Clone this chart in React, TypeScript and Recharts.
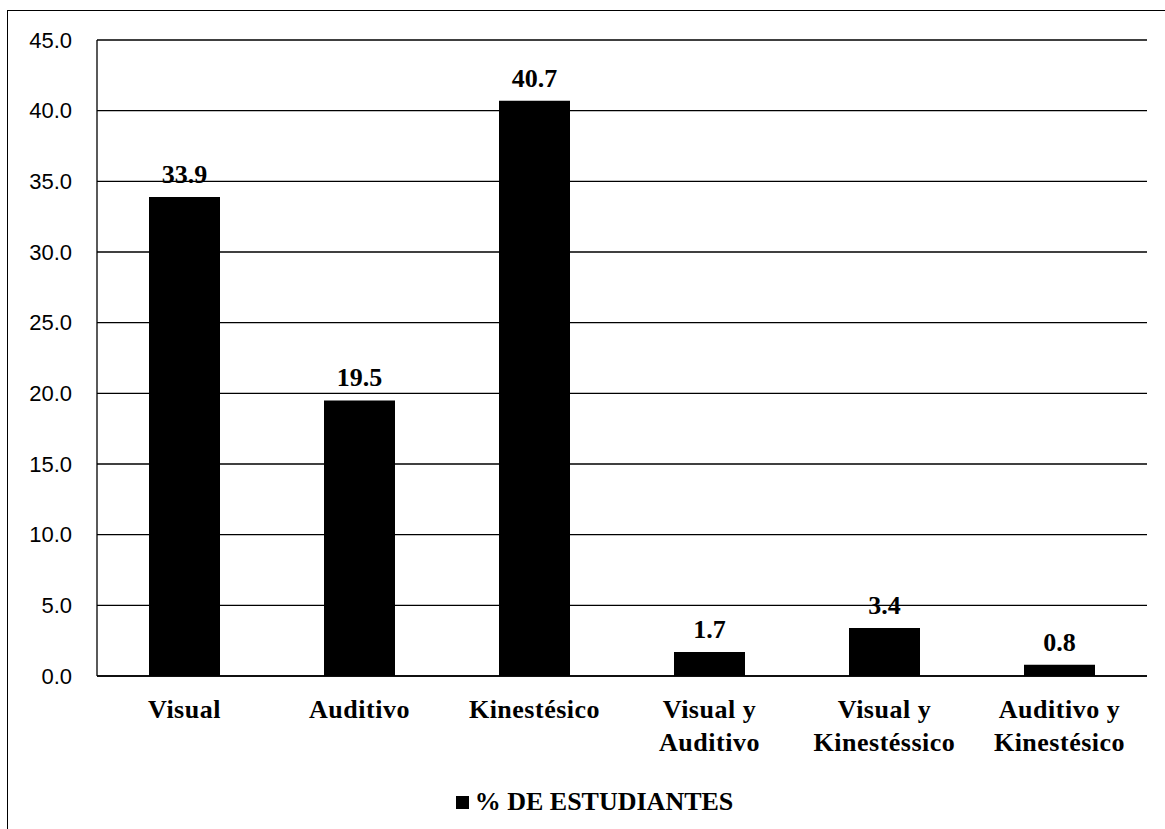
import { BarChart, Bar, XAxis, YAxis, CartesianGrid, Legend, LabelList } from 'recharts';

const categories = [
  'Visual',
  'Auditivo',
  'Kinestésico',
  'Visual y\nAuditivo',
  'Visual y\nKinestéssico',
  'Auditivo y\nKinestésico',
];
const porcentajes = [33.9, 19.5, 40.7, 1.7, 3.4, 0.8];
const yTicks = [0, 5, 10, 15, 20, 25, 30, 35, 40, 45];
const seriesName = '% DE ESTUDIANTES';

const data = categories.map((name, i) => ({ name, value: porcentajes[i] }));

const serif = '"Liberation Serif", "Times New Roman", serif';

function CategoryTick({ x, y, payload }: any) {
  const lines = String(payload.value).split('\n');
  return (
    <text
      x={x}
      y={y}
      textAnchor="middle"
      fontFamily={serif}
      fontWeight="bold"
      fontSize={26}
      letterSpacing={0.5}
      fill="#000"
    >
      {lines.map((line, i) => (
        <tspan key={i} x={x} dy={i === 0 ? 42 : 33}>
          {line}
        </tspan>
      ))}
    </text>
  );
}

function LegendBox() {
  return (
    <div
      style={{
        display: 'flex',
        justifyContent: 'center',
        alignItems: 'center',
        marginLeft: 16,
        fontFamily: serif,
        fontWeight: 'bold',
        fontSize: 26,
        color: '#000',
      }}
    >
      <span style={{ display: 'inline-block', width: 13, height: 13, background: '#000', marginRight: 6 }} />
      <span>{seriesName}</span>
    </div>
  );
}

export default function App() {
  return (
    <div
      style={{
        position: 'absolute',
        left: 7,
        top: 10,
        borderLeft: '1px solid #000',
        borderTop: '1px solid #000',
        background: '#fff',
      }}
    >
      <BarChart
        width={1157}
        height={818}
        data={data}
        margin={{ top: 29, right: 18, bottom: 53, left: 0 }}
      >
        <CartesianGrid vertical={false} stroke="#000" strokeWidth={1.3} />
        <XAxis
          dataKey="name"
          height={100}
          interval={0}
          tickSize={0}
          tickMargin={0}
          axisLine={{ stroke: '#000', strokeWidth: 1.3 }}
          tick={<CategoryTick />}
        />
        <YAxis
          width={89}
          domain={[0, 45]}
          ticks={yTicks}
          interval={0}
          tickSize={0}
          tickMargin={25}
          tickFormatter={(v: number) => v.toFixed(1)}
          axisLine={{ stroke: '#000', strokeWidth: 1.3 }}
          tick={{ fill: '#000', fontFamily: '"Liberation Sans", Arial, sans-serif', fontSize: 22 }}
        />
        <Legend
          verticalAlign="middle"
          align="center"
          layout="horizontal"
          content={<LegendBox />}
          wrapperStyle={{ top: 776, left: 0, width: 1157 }}
        />
        <Bar dataKey="value" name={seriesName} fill="#000" barSize={71} isAnimationActive={false}>
          <LabelList
            dataKey="value"
            position="top"
            offset={14}
            formatter={(v: any) => Number(v).toFixed(1)}
            style={{ fill: '#000', fontFamily: serif, fontWeight: 'bold', fontSize: 26 }}
          />
        </Bar>
      </BarChart>
    </div>
  );
}
